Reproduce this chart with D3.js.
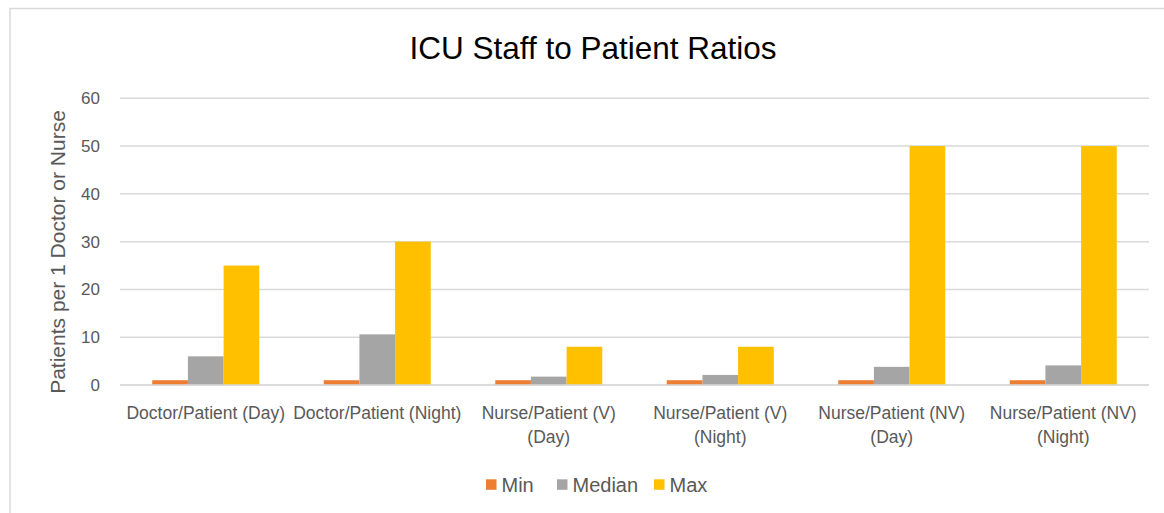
<!DOCTYPE html>
<meta charset="utf-8">
<style>
body { margin: 0; background: #fff; }
text { font-family: "Liberation Sans", Arial, sans-serif; }
</style>
<body>
<script src="https://d3js.org/d3.v7.min.js"></script>
<script>

// chart data
var categories = ["Doctor/Patient (Day)", "Doctor/Patient (Night)", "Nurse/Patient (V) (Day)",
                  "Nurse/Patient (V) (Night)", "Nurse/Patient (NV) (Day)", "Nurse/Patient (NV) (Night)"];
var seriesNames = ["Min", "Median", "Max"];
var minVals = [1, 1, 1, 1, 1, 1];
var medianVals = [6, 10.6, 1.75, 2.1, 3.8, 4.1];
var maxVals = [25, 30, 8, 8, 50, 50];
var yTicks = [0, 10, 20, 30, 40, 50, 60];
var colors = ["#ED7D31", "#A5A5A5", "#FFC000"];

var W = 1164, H = 513;
var plot = {left: 120, right: 1149, top: 98.3, bottom: 385};

var svg = d3.select("body").append("svg")
    .attr("width", W)
    .attr("height", H);

// outer chart frame (only left & top show in the crop)
svg.append("rect")
    .attr("x", 10).attr("y", 8.5)
    .attr("width", 1200).attr("height", 600)
    .attr("fill", "none")
    .attr("stroke", "#d9d9d9")
    .attr("stroke-width", 1.5);

var x0 = d3.scaleBand()
    .domain(categories)
    .range([plot.left, plot.right])
    .paddingInner(0.376)
    .paddingOuter(0.188);

var x1 = d3.scaleBand()
    .domain(seriesNames)
    .range([0, x0.bandwidth()]);

var y = d3.scaleLinear()
    .domain([0, 60])
    .range([plot.bottom, plot.top]);

// gridlines
svg.append("g")
  .selectAll("line")
  .data(yTicks)
  .enter().append("line")
    .attr("x1", plot.left)
    .attr("x2", plot.right)
    .attr("y1", function(d) { return y(d); })
    .attr("y2", function(d) { return y(d); })
    .attr("stroke", "#d9d9d9")
    .attr("stroke-width", 1.5);

// y axis labels
var yAxis = svg.append("g")
    .attr("transform", "translate(" + (plot.left - 12) + ",0)")
    .call(d3.axisLeft(y).tickValues(yTicks).tickSize(0).tickPadding(8));
yAxis.select(".domain").remove();
yAxis.selectAll("text")
    .attr("fill", "#595959")
    .style("font-size", "17px")
    .style("font-family", "'Liberation Sans', Arial, sans-serif");

// bars
var table = categories.map(function(c, i) {
  return {cat: c, values: [minVals[i], medianVals[i], maxVals[i]]};
});

var groups = svg.append("g")
  .selectAll("g")
  .data(table)
  .enter().append("g")
    .attr("transform", function(d) { return "translate(" + x0(d.cat) + ",0)"; });

groups.selectAll("rect")
  .data(function(d) { return d.values.map(function(v, j) { return {s: seriesNames[j], v: v, j: j}; }); })
  .enter().append("rect")
    .attr("x", function(d) { return x1(d.s); })
    .attr("width", x1.bandwidth())
    .attr("y", function(d) { return y(d.v); })
    .attr("height", function(d) { return y(0) - y(d.v); })
    .attr("fill", function(d) { return colors[d.j]; });

// x axis category labels, wrapped like Excel
var xAxis = svg.append("g")
    .attr("transform", "translate(0," + plot.bottom + ")")
    .call(d3.axisBottom(x0).tickSize(0).tickPadding(0));
xAxis.select(".domain").remove();
xAxis.selectAll("text")
    .attr("fill", "#595959")
    .style("font-size", "17.5px")
    .style("font-family", "'Liberation Sans', Arial, sans-serif")
    .call(wrap, x0.step());

function wrap(sel, width) {
  sel.each(function() {
    var t = d3.select(this),
        words = t.text().split(/\s+/),
        line = [], lines = [];
    t.text(null);
    var tmp = t.append("tspan");
    words.forEach(function(w) {
      line.push(w);
      tmp.text(line.join(" "));
      if (tmp.node().getComputedTextLength() > width && line.length > 1) {
        line.pop();
        lines.push(line.join(" "));
        line = [w];
      }
    });
    lines.push(line.join(" "));
    tmp.remove();
    lines.forEach(function(l, k) {
      t.append("tspan")
        .attr("x", 0)
        .attr("y", 34 + k * 23.5)
        .attr("dy", 0)
        .text(l);
    });
  });
}

// the axis baseline
svg.append("line")
    .attr("x1", plot.left).attr("x2", plot.right)
    .attr("y1", y(0)).attr("y2", y(0))
    .attr("stroke", "#d9d9d9")
    .attr("stroke-width", 1.5);

// title
svg.append("text")
    .attr("x", 593)
    .attr("y", 59)
    .attr("text-anchor", "middle")
    .attr("fill", "#000")
    .style("font-size", "31.5px")
    .text("ICU Staff to Patient Ratios");

// y axis title
svg.append("text")
    .attr("transform", "translate(65,252) rotate(-90)")
    .attr("text-anchor", "middle")
    .attr("fill", "#595959")
    .style("font-size", "21px")
    .text("Patients per 1 Doctor or Nurse");

// legend
var legendX = [486, 557, 654];
var legend = svg.append("g")
  .selectAll("g")
  .data(seriesNames)
  .enter().append("g")
    .attr("transform", function(d, i) { return "translate(" + legendX[i] + ",479.3)"; });

legend.append("rect")
    .attr("width", 10.5)
    .attr("height", 10.5)
    .attr("fill", function(d, i) { return colors[i]; });

legend.append("text")
    .attr("x", 15.5)
    .attr("y", 12.4)
    .attr("fill", "#595959")
    .style("font-size", "20px")
    .text(function(d) { return d; });

</script>
</body>
